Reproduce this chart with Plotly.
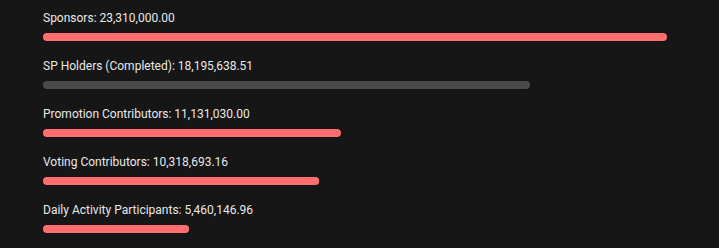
import plotly.graph_objects as go

categories = ["Sponsors", "SP Holders (Completed)", "Promotion Contributors",
              "Voting Contributors", "Daily Activity Participants"]
values = [23310000.00, 18195638.51, 11131030.00, 10318693.16, 5460146.96]
colors = ["#ff6e6e", "#4a4a4a", "#ff6e6e", "#ff6e6e", "#ff6e6e"]

# two overlapping segments per bar so both ends get rounded caps
left_end = [v * 0.75 for v in values]
right_start = [v * 0.5 for v in values]

fig = go.Figure()
fig.add_trace(go.Bar(
    x=[-e for e in left_end], base=left_end, y=categories, orientation="h",
    marker=dict(color=colors, line=dict(width=0)),
    width=8 / 48, hoverinfo="skip",
))
fig.add_trace(go.Bar(
    x=[v - s for v, s in zip(values, right_start)], base=right_start,
    y=categories, orientation="h",
    marker=dict(color=colors, line=dict(width=0)),
    width=8 / 48, hoverinfo="skip",
))

for c, v in zip(categories, values):
    fig.add_annotation(
        x=0, xref="paper", xanchor="left", xshift=-2,
        y=c, yref="y", yanchor="middle", yshift=19,
        text=f"{c}: {v:,.2f}", showarrow=False,
        font=dict(family="Roboto", size=12, color="#e8e8e8"),
    )

fig.update_layout(
    width=719, height=248,
    margin=dict(l=43, r=52, t=0, b=0),
    paper_bgcolor="#161616", plot_bgcolor="#161616",
    barmode="overlay",
    barcornerradius=4,
    showlegend=False,
    xaxis=dict(range=[0, max(values)], visible=False, fixedrange=True),
    yaxis=dict(type="category", range=[4.3958, -0.7708], visible=False, fixedrange=True),
)

fig.write_html("out.html")
